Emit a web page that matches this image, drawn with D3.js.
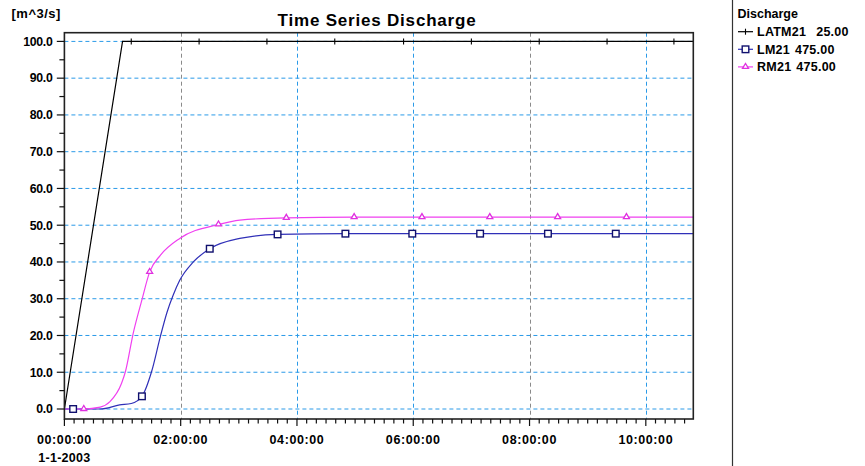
<!DOCTYPE html>
<html><head><meta charset="utf-8">
<script src="https://cdn.jsdelivr.net/npm/d3@7"></script>
<style>
html,body{margin:0;padding:0;background:#fff;}
svg{display:block;font-family:"Liberation Sans",Arial,sans-serif;font-weight:bold;}
</style></head>
<body><svg id="chart" width="865" height="466"></svg>
<script>
// ---- data (time in minutes from 1-1-2003 00:00:00, discharge in m^3/s) ----
const title = "Time Series Discharge";
const unitLabel = "[m^3/s]";
const legendTitle = "Discharge";
const seriesNames = ["LATM21", "LM21", "RM21"];
const seriesLabels = ["25.00", "475.00", "475.00"];

const latmTimes  = [0, 60, 650];
const latmValues = [0, 100, 100];
const latmMarkerTimes = [69, 139, 209, 279, 350, 420, 490, 560, 629];

const lmTimes  = [0, 9, 37, 57, 69, 80, 90, 99, 106, 112, 119, 133, 150, 181, 220, 290, 650];
const lmValues = [0, 0, 0, 1.1, 1.5, 3.45, 10.2, 19.7, 26.4, 30.8, 35, 40, 43.6, 46.4, 47.5, 47.7, 47.7];
const lmMarkerTimes = [9, 80, 150, 220, 290, 359, 429, 499, 569];

const rmTimes  = [0, 20, 37, 47, 59, 63, 71, 80, 88, 99, 119, 159, 181, 229, 299, 650];
const rmValues = [0, 0, 0.5, 2.0, 7.0, 10.2, 20.6, 29.7, 37.3, 41.8, 46.4, 50.2, 51.4, 52.0, 52.2, 52.2];
const rmMarkerTimes = [20, 88, 159, 229, 299, 369, 439, 509, 580];

const yTicks = [0, 10, 20, 30, 40, 50, 60, 70, 80, 90, 100];
const xTickLabels = ["00:00:00", "02:00:00", "04:00:00", "06:00:00", "08:00:00", "10:00:00"];
const dateLabel = "1-1-2003";

// ---- layout / style ----
const svg = d3.select("#chart");
const L = 64.4, R = 693.3, T = 32.7, B = 419;
const x = d3.scaleLinear().domain([0, 649]).range([L, R]);
const y = d3.scaleLinear().domain([-2.72, 102.37]).range([B, T]);
const gridBlue = "#2a9ae8", gridGray = "#8a8a8a";
const vGridColors = {120: gridGray, 240: gridBlue, 360: gridBlue, 480: gridGray, 600: gridBlue};
const colors = ["#000000", "#3030b8", "#f040f0"];
const markerStroke = ["#000000", "#10106e", "#e030e0"];

// title & unit
svg.append("text").attr("x", 377).attr("y", 26).attr("text-anchor", "middle")
  .attr("font-size", 17).attr("letter-spacing", 0.8).text(title);
svg.append("text").attr("x", 11.5).attr("y", 18).attr("font-size", 13).attr("letter-spacing", 0.5).text(unitLabel);

// grid
const g = svg.append("g");
g.selectAll("line.hg").data(yTicks).join("line")
  .attr("x1", L).attr("x2", R).attr("y1", d => y(d)).attr("y2", d => y(d))
  .attr("stroke", gridBlue).attr("stroke-width", 1).attr("stroke-dasharray", "4,3");
const xMajor = d3.range(0, 649, 120);
g.selectAll("line.vg").data(xMajor.filter(d => d > 0)).join("line")
  .attr("x1", d => Math.round(x(d)) + 0.5).attr("x2", d => Math.round(x(d)) + 0.5)
  .attr("y1", T).attr("y2", B)
  .attr("stroke", d => vGridColors[d]).attr("stroke-width", 1).attr("stroke-dasharray", "4,3");

// series
svg.append("clipPath").attr("id", "clip").append("rect")
  .attr("x", L).attr("y", T).attr("width", R - L).attr("height", B - T);
const series = [
  {times: latmTimes, values: latmValues, marks: latmMarkerTimes, curve: d3.curveLinear},
  {times: lmTimes, values: lmValues, marks: lmMarkerTimes, curve: d3.curveMonotoneX},
  {times: rmTimes, values: rmValues, marks: rmMarkerTimes, curve: d3.curveMonotoneX}
];
function interp(s, t) {
  const i = d3.bisectRight(s.times, t);
  if (i <= 0) return s.values[0];
  if (i >= s.times.length) return s.values[s.values.length - 1];
  const t0 = s.times[i - 1], t1 = s.times[i];
  return s.values[i - 1] + (s.values[i] - s.values[i - 1]) * (t - t0) / (t1 - t0);
}
const plot = svg.append("g").attr("clip-path", "url(#clip)");
function drawMarker(sel, idx, cx, cy) {
  if (idx === 0) {
    sel.append("line").attr("x1", cx).attr("x2", cx).attr("y1", cy - 3).attr("y2", cy + 3)
      .attr("stroke", markerStroke[0]).attr("stroke-width", 1.1);
  } else if (idx === 1) {
    sel.append("rect").attr("x", cx - 3.3).attr("y", cy - 3.3).attr("width", 6.6).attr("height", 6.6)
      .attr("fill", "#fff").attr("stroke", markerStroke[1]).attr("stroke-width", 1.4);
  } else {
    sel.append("path").attr("d", `M${cx - 3},${cy + 1.5}L${cx},${cy - 3.5}L${cx + 3},${cy + 1.5}Z`)
      .attr("fill", "#fff").attr("stroke", markerStroke[2]).attr("stroke-width", 1.3);
  }
}
series.forEach((s, i) => {
  const line = d3.line().x(d => x(d[0])).y(d => y(d[1])).curve(s.curve);
  plot.append("path").datum(s.times.map((t, k) => [t, s.values[k]]))
    .attr("d", line).attr("fill", "none").attr("stroke", colors[i]).attr("stroke-width", 1.2);
});
series.forEach((s, i) => {
  s.marks.forEach(t => drawMarker(plot, i, x(t), y(interp(s, t))));
});

// frame
svg.append("rect").attr("x", L).attr("y", T).attr("width", R - L).attr("height", B - T)
  .attr("fill", "none").attr("stroke", "#222").attr("stroke-width", 1.6);

// y axis ticks
const yMinor = d3.range(0, 101, 5);
svg.selectAll("line.yt").data(yMinor).join("line")
  .attr("x1", d => d % 10 === 0 ? L - 7.6 : L - 5).attr("x2", L)
  .attr("y1", d => y(d)).attr("y2", d => y(d)).attr("stroke", "#111").attr("stroke-width", 1.2);
svg.selectAll("text.yl").data(yTicks).join("text")
  .attr("x", 52.5).attr("y", d => y(d) + 4.3).attr("text-anchor", "end")
  .attr("font-size", 12.3).attr("letter-spacing", -0.3).text(d => d.toFixed(1));

// x axis ticks
const xMinor = d3.range(0, 650, 10);
svg.selectAll("line.xt").data(xMinor).join("line")
  .attr("x1", d => x(d)).attr("x2", d => x(d))
  .attr("y1", B).attr("y2", d => d % 120 === 0 ? B + 7 : B + 4.5)
  .attr("stroke", "#111").attr("stroke-width", 1.2);
svg.selectAll("text.xl").data(xMajor).join("text")
  .attr("x", d => x(d)).attr("y", 444).attr("text-anchor", "middle")
  .attr("font-size", 12.5).attr("letter-spacing", 0.6).text((d, i) => xTickLabels[i]);
svg.append("text").attr("x", x(0)).attr("y", 462).attr("text-anchor", "middle")
  .attr("font-size", 12.5).attr("letter-spacing", 0.3).text(dateLabel);

// legend panel
svg.append("line").attr("x1", 732.5).attr("x2", 732.5).attr("y1", 0).attr("y2", 466)
  .attr("stroke", "#333").attr("stroke-width", 1.2);
svg.append("text").attr("x", 737.5).attr("y", 17.5).attr("font-size", 12.5).text(legendTitle);
const spaceW = 5;
seriesNames.forEach((n, i) => {
  const ly = 36 + i * 17.6;
  const cy = ly - 4.3;
  svg.append("line").attr("x1", 738).attr("x2", 753).attr("y1", cy).attr("y2", cy)
    .attr("stroke", colors[i]).attr("stroke-width", 1.2);
  drawMarker(svg, i, 745.5, cy);
  const t = svg.append("text").attr("x", 757).attr("y", ly).attr("font-size", 12.5).attr("letter-spacing", 0.25);
  t.append("tspan").text(n);
  // value is formatted to a fixed width of 6 characters, padded with spaces
  t.append("tspan").attr("dx", spaceW * (1 + 6 - seriesLabels[i].length)).text(seriesLabels[i]);
});
</script></body></html>
